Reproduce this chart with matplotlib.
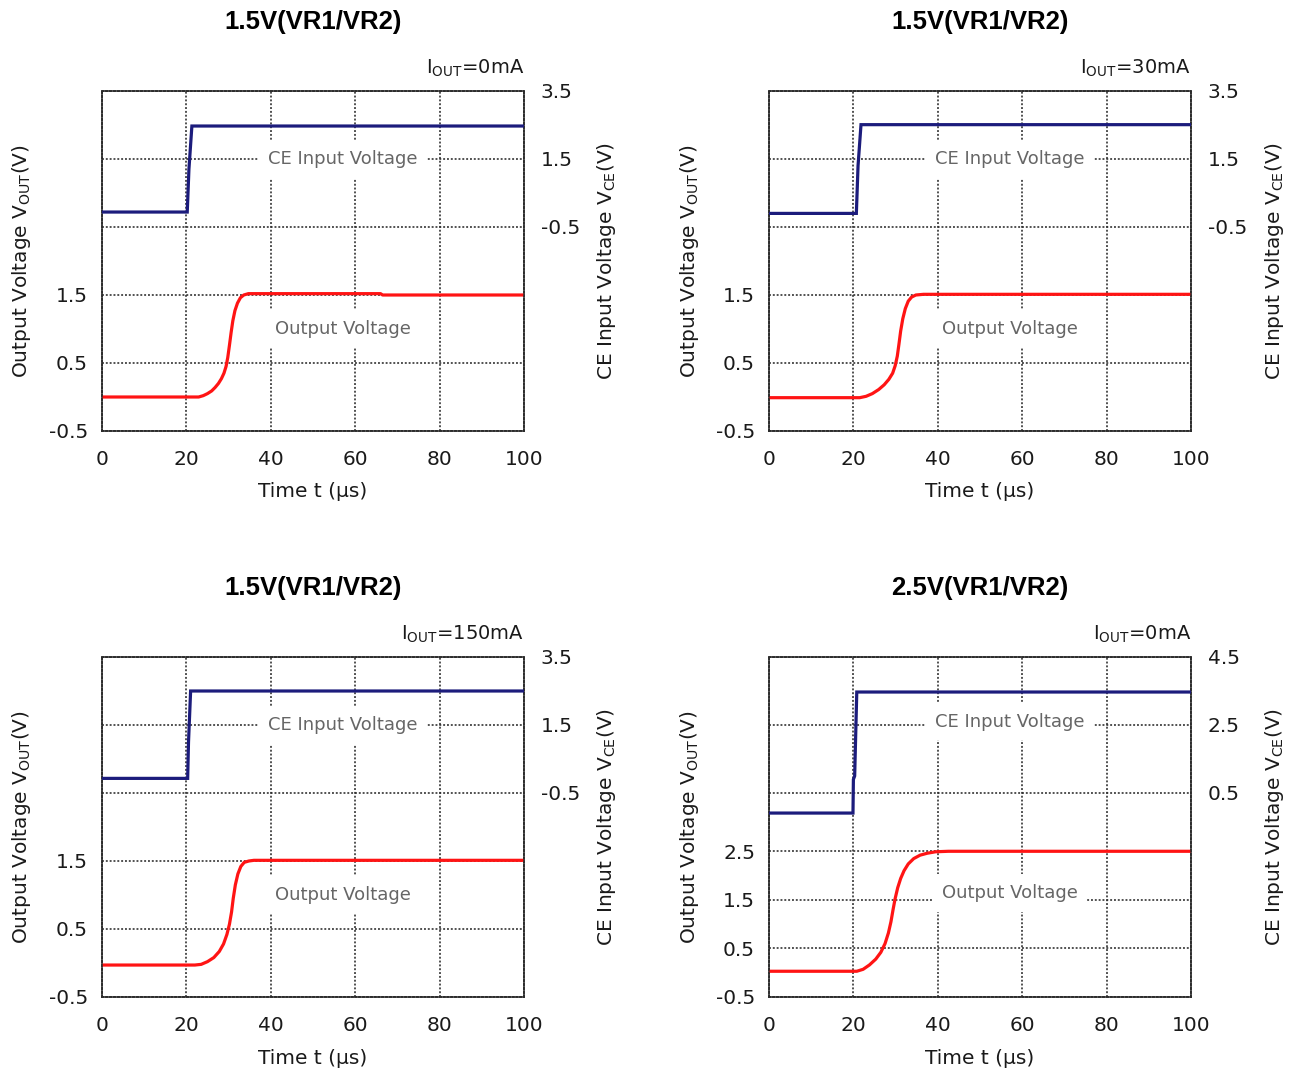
import matplotlib
matplotlib.use("Agg")
import matplotlib.pyplot as plt

plt.rcParams.update({
    "font.family": "DejaVu Sans",
    "mathtext.default": "regular",
    "axes.unicode_minus": False,
    "text.color": "#1a1a1a",
    "xtick.color": "#1a1a1a",
    "ytick.color": "#1a1a1a",
})

# ---------------------------------------------------------------------------
# Data, one set per panel
# ---------------------------------------------------------------------------
TITLES = ["1.5V(VR1/VR2)", "1.5V(VR1/VR2)", "1.5V(VR1/VR2)", "2.5V(VR1/VR2)"]
IOUT_LABELS = ["0mA", "30mA", "150mA", "0mA"]
X_TICKS = [0, 20, 40, 60, 80, 100]

# left axis (output voltage) ticks / limits
OUT_TICKS = [[-0.5, 0.5, 1.5]] * 3 + [[-0.5, 0.5, 1.5, 2.5]]
OUT_LIMS = [(-0.5, 4.5)] * 3 + [(-0.5, 6.5)]
# right axis (CE input voltage) ticks / limits
CE_TICKS = [[-0.5, 1.5, 3.5]] * 3 + [[0.5, 2.5, 4.5]]
CE_LIMS = [(-6.5, 3.5)] * 3 + [(-5.5, 4.5)]

# CE input voltage step
ce_t1 = [0, 20.2, 20.6, 21.3, 100]
ce_v1 = [-0.06, -0.06, 1.2, 2.47, 2.47]
ce_t2 = [0, 20.7, 21.1, 21.8, 100]
ce_v2 = [-0.1, -0.1, 1.3, 2.51, 2.51]
ce_t3 = [0, 20.3, 20.5, 21.0, 100]
ce_v3 = [-0.07, -0.07, 1.0, 2.5, 2.5]
ce_t4 = [0, 19.9, 20.0, 20.3, 20.8, 100]
ce_v4 = [-0.09, -0.09, 0.9, 1.0, 3.47, 3.47]

# output voltage rise
out_t1 = [0, 22.9, 24.0, 25.0, 26.0, 26.8, 27.6, 28.3, 28.9, 29.4, 29.8, 30.2, 30.6,
          31.0, 31.5, 32.1, 32.8, 33.6, 34.7, 66, 66.5, 100]
out_v1 = [0.0, 0.0, 0.02, 0.05, 0.09, 0.14, 0.2, 0.27, 0.35, 0.45, 0.58, 0.76, 0.95,
          1.12, 1.27, 1.38, 1.46, 1.5, 1.52, 1.52, 1.5, 1.5]
out_t2 = [0, 21.5, 23.0, 24.5, 26.0, 27.3, 28.4, 29.3, 29.9, 30.4, 30.8, 31.2, 31.7,
          32.3, 33.0, 33.8, 34.8, 36.6, 100]
out_v2 = [-0.01, -0.01, 0.01, 0.05, 0.11, 0.18, 0.26, 0.35, 0.46, 0.6, 0.78, 0.97,
          1.15, 1.3, 1.41, 1.47, 1.5, 1.51, 1.51]
out_t3 = [0, 22.0, 23.5, 25.0, 26.5, 27.8, 28.8, 29.6, 30.2, 30.7, 31.1, 31.6, 32.2,
          32.9, 33.7, 34.8, 36.0, 100]
out_v3 = [-0.03, -0.03, -0.02, 0.02, 0.08, 0.17, 0.28, 0.42, 0.57, 0.75, 0.95, 1.15,
          1.31, 1.42, 1.48, 1.5, 1.51, 1.51]
out_t4 = [0, 20.8, 22.3, 23.8, 25.3, 26.5, 27.5, 28.3, 28.9, 29.4, 29.9, 30.5, 31.2,
          32.0, 33.0, 34.3, 35.8, 37.5, 39.5, 42.5, 100]
out_v4 = [0.03, 0.03, 0.07, 0.16, 0.28, 0.42, 0.6, 0.82, 1.05, 1.3, 1.53, 1.75, 1.94,
          2.1, 2.24, 2.35, 2.42, 2.46, 2.49, 2.5, 2.5]

CE_T = [ce_t1, ce_t2, ce_t3, ce_t4]
CE_V = [ce_v1, ce_v2, ce_v3, ce_v4]
OUT_T = [out_t1, out_t2, out_t3, out_t4]
OUT_V = [out_v1, out_v2, out_v3, out_v4]

# in-plot label anchors (data coords: t, voltage on own axis)
CE_LABEL_POS = [(57, 1.5), (57, 1.5), (57, 1.5), (57, 2.6)]
OUT_LABEL_POS = [(57, 1.0), (57, 1.0), (57, 1.0), (57, 1.64)]

# ---------------------------------------------------------------------------
# Style
# ---------------------------------------------------------------------------
RED = "#ff1414"
NAVY = "#1c1c7c"
GRID_KW = dict(color="#2a2a2a", linestyle=(0, (1.2, 1.2)), linewidth=1.15)
TICK_FS = 14.5
LABEL_FS = 14.5

W, H = 1301, 1070
AX_W, AX_H = 422, 340
POSITIONS = [(102, 91), (769, 91), (102, 657), (769, 657)]  # px: left, top


def draw_panel(fig, i):
    left, top = POSITIONS[i]
    ax = fig.add_axes([left / W, 1 - (top + AX_H) / H, AX_W / W, AX_H / H])
    ax2 = ax.twinx()

    ax.set_xlim(0, 100)
    ax.set_xticks(X_TICKS)
    ax.set_ylim(*OUT_LIMS[i])
    ax.set_yticks(OUT_TICKS[i])
    ax2.set_ylim(*CE_LIMS[i])
    ax2.set_yticks(CE_TICKS[i])

    ax.grid(True, **GRID_KW)
    ax2.grid(True, axis="y", **GRID_KW)
    for a in (ax, ax2):
        for sp in a.spines.values():
            sp.set_linestyle((0, (1.2, 1.2)))
            sp.set_color("#2a2a2a")
            sp.set_linewidth(1.15)
    ax.tick_params(axis="x", length=0, pad=14, labelsize=TICK_FS)
    ax.tick_params(axis="y", length=0, pad=10, labelsize=TICK_FS)
    ax2.tick_params(axis="y", length=0, pad=12, labelsize=TICK_FS)

    ax.plot(OUT_T[i], OUT_V[i], color=RED, lw=2.3, solid_joinstyle="round", zorder=4)
    ax2.plot(CE_T[i], CE_V[i], color=NAVY, lw=2.3, solid_joinstyle="miter", zorder=4)

    box = dict(facecolor="white", edgecolor="none", pad=7)
    ax2.text(*CE_LABEL_POS[i], "CE Input Voltage", ha="center", va="center",
             fontsize=13, color="#666666", bbox=box, zorder=3)
    ax.text(*OUT_LABEL_POS[i], "Output Voltage", ha="center", va="center",
            fontsize=13, color="#666666", bbox=box, zorder=3)

    # titles, current label and axis labels
    ax.text(0.5, 1 + 69 / AX_H, TITLES[i], transform=ax.transAxes, ha="center",
            va="center", fontsize=18.5, fontweight="bold", family="Liberation Sans",
            color="black")
    ax.text(1.0, 1 + 23 / AX_H, "I$_{OUT}$=" + IOUT_LABELS[i], transform=ax.transAxes,
            ha="right", va="center", fontsize=14)
    ax.text(0.5, -61 / AX_H, "Time t (µs)", transform=ax.transAxes, ha="center",
            va="center", fontsize=14.5)
    ax.text(-80 / AX_W, 0.5, "Output Voltage V$_{OUT}$(V)", transform=ax.transAxes,
            rotation=90, ha="center", va="center", fontsize=LABEL_FS)
    ax.text(1 + 83 / AX_W, 0.5, "CE Input Voltage V$_{CE}$(V)", transform=ax.transAxes,
            rotation=90, ha="center", va="center", fontsize=LABEL_FS)


def main():
    fig = plt.figure(figsize=(W / 100, H / 100), dpi=100)
    for i in range(4):
        draw_panel(fig, i)
    fig.savefig("out.png", dpi=100, facecolor="white")
    plt.close(fig)


if __name__ == "__main__":
    main()
